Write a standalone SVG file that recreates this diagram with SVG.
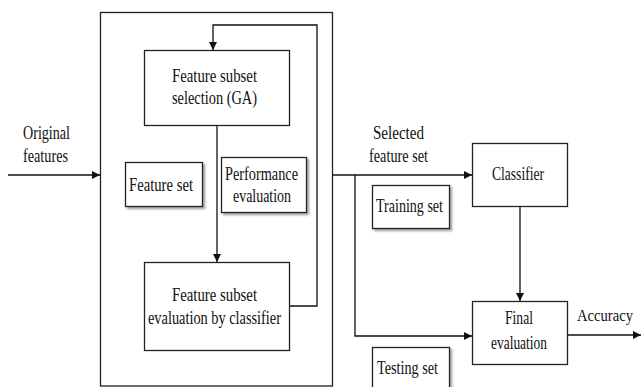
<svg xmlns="http://www.w3.org/2000/svg" width="641" height="387" viewBox="0 0 641 387">
<defs>
<marker id="ah" viewBox="0 0 10 10" refX="10" refY="5" markerWidth="8" markerHeight="8" markerUnits="userSpaceOnUse" orient="auto">
<path d="M0,0 L10,5 L0,10 Z" fill="#111"/>
</marker>
<filter id="sh" x="-10%" y="-10%" width="130%" height="140%">
<feDropShadow dx="2" dy="2" stdDeviation="1.2" flood-color="#777" flood-opacity="0.7"/>
</filter>
<style>
.box{fill:#fff;stroke:#222;stroke-width:1.3}
.sbox{fill:#fff;stroke:#222;stroke-width:1.3;filter:url(#sh)}
.ln{fill:none;stroke:#111;stroke-width:1.3}
.t{font-family:"Liberation Serif","Times New Roman",serif;font-size:18px;fill:#111}
</style>
</defs>
<rect width="641" height="387" fill="#fff"/>
<g id="outer"><rect class="box" x="100.5" y="12.5" width="232" height="373.5"/></g>
<g id="connectors">
<path class="ln" d="M8,175 L100,175" marker-end="url(#ah)"/>
<path class="ln" d="M289,306 L317,306 L317,25 L213,25 L213,50" marker-end="url(#ah)"/>
<path class="ln" d="M217,125 L217,262" marker-end="url(#ah)"/>
<path class="ln" d="M332,175 L472,175" marker-end="url(#ah)"/>
<path class="ln" d="M355,175 L355,336 L472,336" marker-end="url(#ah)"/>
<path class="ln" d="M520,206 L520,301" marker-end="url(#ah)"/>
<path class="ln" d="M567,335 L641,335" marker-end="url(#ah)"/>
</g>
<g id="original-label">
<text class="t" x="23" y="139" textLength="47" lengthAdjust="spacingAndGlyphs">Original</text>
<text class="t" x="23" y="162" textLength="45" lengthAdjust="spacingAndGlyphs">features</text>
</g>
<g id="fs-selection">
<rect class="box" x="144.5" y="50.5" width="145" height="75"/>
<text class="t" x="172" y="82" textLength="85" lengthAdjust="spacingAndGlyphs">Feature subset</text>
<text class="t" x="172" y="104" textLength="85" lengthAdjust="spacingAndGlyphs">selection (GA)</text>
</g>
<g id="feature-set">
<rect class="sbox" x="125.5" y="162.5" width="77" height="44"/>
<text class="t" x="129" y="191" textLength="64" lengthAdjust="spacingAndGlyphs">Feature set</text>
</g>
<g id="performance">
<rect class="sbox" x="221.5" y="157.5" width="85" height="55"/>
<text class="t" x="225" y="180" textLength="73" lengthAdjust="spacingAndGlyphs">Performance</text>
<text class="t" x="233" y="202" textLength="58" lengthAdjust="spacingAndGlyphs">evaluation</text>
</g>
<g id="fs-evaluation">
<rect class="box" x="144.5" y="262.5" width="145" height="88"/>
<text class="t" x="172" y="301" textLength="85" lengthAdjust="spacingAndGlyphs">Feature subset</text>
<text class="t" x="148" y="324" textLength="133" lengthAdjust="spacingAndGlyphs">evaluation by  classifier</text>
</g>
<g id="selected-label">
<text class="t" x="373" y="139" textLength="51" lengthAdjust="spacingAndGlyphs">Selected</text>
<text class="t" x="369" y="162" textLength="59" lengthAdjust="spacingAndGlyphs">feature set</text>
</g>
<g id="training-set">
<rect class="sbox" x="372.5" y="185.5" width="77" height="43"/>
<text class="t" x="376" y="212" textLength="67" lengthAdjust="spacingAndGlyphs">Training set</text>
</g>
<g id="testing-set">
<rect class="sbox" x="372.5" y="347.5" width="77" height="50"/>
<text class="t" x="377" y="374" textLength="61" lengthAdjust="spacingAndGlyphs">Testing set</text>
</g>
<g id="classifier">
<rect class="box" x="472.5" y="143.5" width="95" height="63"/>
<text class="t" x="492" y="180" textLength="52" lengthAdjust="spacingAndGlyphs">Classifier</text>
</g>
<g id="final-evaluation">
<rect class="box" x="472.5" y="301.5" width="95" height="63"/>
<text class="t" x="505" y="324" textLength="28" lengthAdjust="spacingAndGlyphs">Final</text>
<text class="t" x="491" y="349" textLength="56" lengthAdjust="spacingAndGlyphs">evaluation</text>
</g>
<g id="accuracy-label">
<text class="t" x="577" y="321" style="font-size:16px" textLength="56" lengthAdjust="spacingAndGlyphs">Accuracy</text>
</g>
</svg>
